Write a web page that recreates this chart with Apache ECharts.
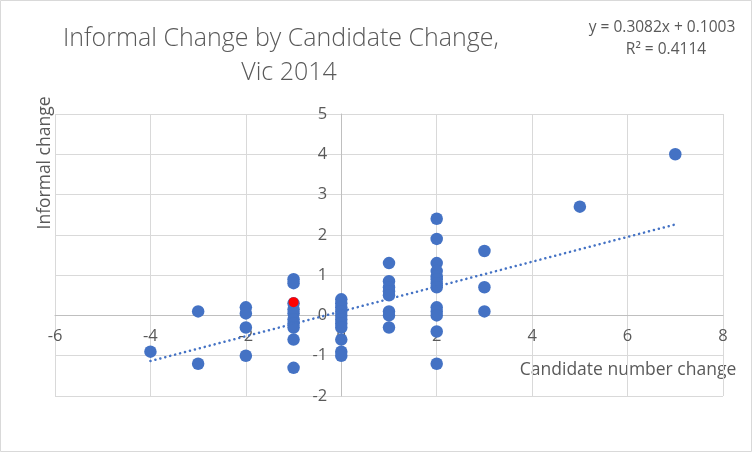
<!DOCTYPE html>
<html>
<head>
<meta charset="utf-8">
<script src="https://cdn.jsdelivr.net/npm/echarts@6/dist/echarts.min.js"></script>
<style>
html,body{margin:0;padding:0;background:#fff;}
#chart{width:752px;height:452px;}
</style>
</head>
<body>
<div id="chart"></div>
<script>
// Candidate number change (x) and informal change (y)
const candChange = [
  -4,
  -3, -3,
  -2, -2, -2, -2,
  -1, -1, -1, -1, -1, -1, -1, -1, -1, -1,
  0, 0, 0, 0, 0, 0, 0, 0, 0, 0, 0,
  1, 1, 1, 1, 1, 1, 1, 1,
  2, 2, 2, 2, 2, 2, 2, 2, 2, 2, 2, 2, 2,
  3, 3, 3,
  5,
  7
];
const informalChange = [
  -0.9,
  0.1, -1.2,
  0.2, 0.05, -0.3, -1.0,
  0.9, 0.8, 0.3, 0.15, 0.05, -0.1, -0.2, -0.3, -0.6, -1.3,
  0.4, 0.3, 0.2, 0.1, 0.0, -0.1, -0.2, -0.3, -0.6, -0.9, -1.0,
  1.3, 0.85, 0.7, 0.6, 0.5, 0.1, 0.0, -0.3,
  2.4, 1.9, 1.3, 1.1, 0.97, 0.9, 0.8, 0.7, 0.2, 0.1, 0.0, -0.4, -1.2,
  1.6, 0.7, 0.1,
  2.7,
  4.0
];
const highlightX = [-1];
const highlightY = [0.33];
// Linear trendline as printed on the chart
const slope = 0.3082;
const intercept = 0.1003;
const trendXRange = [-4, 7];
const xTicks = [-6, -4, -2, 0, 2, 4, 6, 8];
const yTicks = [-2, -1, 0, 1, 2, 3, 4, 5];

const titleLines = ['Informal Change by Candidate Change,', 'Vic 2014'];
const eqLines = ['y = 0.3082x + 0.1003', 'R² = 0.4114'];
const xName = 'Candidate number change';
const yName = 'Informal change';

const blue = '#4472C4';
const textCol = '#595959';
const font = '"Open Sans", "Liberation Sans", sans-serif';

const W = 752, H = 452;
const gridL = 55, gridR = 29, gridT = 114, gridB = 56;
const gridW = W - gridL - gridR, gridH = H - gridT - gridB;
const xMin = xTicks[0], xMax = xTicks[xTicks.length - 1];
const yMin = yTicks[0], yMax = yTicks[yTicks.length - 1];
// shift axes so they sit on the zero lines (Excel style crossing)
const yAxisOffset = -((0 - xMin) / (xMax - xMin)) * gridW;
const xAxisOffset = -((0 - yMin) / (yMax - yMin)) * gridH;

const mainData = candChange.map((x, i) => [x, informalChange[i]]);
const redData = highlightX.map((x, i) => [x, highlightY[i]]);
const trendData = trendXRange.map(x => [x, slope * x + intercept]);

const chart = echarts.init(document.getElementById('chart'));
chart.setOption({
  backgroundColor: '#fff',
  animation: false,
  grid: { left: gridL, right: gridR, top: gridT, bottom: gridB },
  xAxis: {
    type: 'value',
    min: xMin, max: xMax, interval: 2,
    position: 'bottom', offset: xAxisOffset,
    axisLine: { onZero: false, lineStyle: { color: '#BFBFBF', width: 1 } },
    axisTick: { show: false },
    axisLabel: { color: textCol, fontSize: 16.5, fontFamily: font, margin: 12 },
    splitLine: { show: true, lineStyle: { color: '#D9D9D9', width: 1 } }
  },
  yAxis: {
    type: 'value',
    min: yMin, max: yMax, interval: 1,
    position: 'left', offset: yAxisOffset,
    axisLine: { onZero: false, lineStyle: { color: '#BFBFBF', width: 1 } },
    axisTick: { show: false },
    axisLabel: { color: textCol, fontSize: 16.5, fontFamily: font, margin: 14 },
    splitLine: { show: true, lineStyle: { color: '#D9D9D9', width: 1 } }
  },
  series: [
    {
      type: 'scatter', data: mainData, symbolSize: 12.5,
      itemStyle: { color: blue, opacity: 1 }, z: 3
    },
    {
      type: 'line', data: trendData, showSymbol: false, symbol: 'none',
      lineStyle: { color: blue, width: 2.5, type: [0.1, 5], cap: 'round' }, z: 4
    },
    {
      type: 'scatter', data: redData, symbolSize: 10,
      itemStyle: { color: '#FF0000', opacity: 1 }, z: 5
    }
  ],
  graphic: [
    { type: 'rect', shape: { x: 0.5, y: 0.5, width: 751, height: 451 },
      style: { fill: 'none', stroke: '#D9D9D9', lineWidth: 1 }, silent: true },
    { type: 'text', x: 281, y: 39, style: { text: titleLines[0], fill: textCol, font: '300 25px ' + font, textAlign: 'center', textVerticalAlign: 'middle' } },
    { type: 'text', x: 289, y: 73, style: { text: titleLines[1], fill: textCol, font: '300 25px ' + font, textAlign: 'center', textVerticalAlign: 'middle' } },
    { type: 'text', x: 662, y: 28, style: { text: eqLines[0], fill: textCol, font: '15.5px ' + font, textAlign: 'center', textVerticalAlign: 'middle' } },
    { type: 'text', x: 666, y: 50, style: { text: eqLines[1], fill: textCol, font: '15.5px ' + font, textAlign: 'center', textVerticalAlign: 'middle' } },
    { type: 'text', x: 628, y: 370, style: { text: xName, fill: textCol, font: '17.5px ' + font, textAlign: 'center', textVerticalAlign: 'middle' } },
    { type: 'text', x: 45, y: 163, rotation: Math.PI / 2, style: { text: yName, fill: textCol, font: '17.5px ' + font, textAlign: 'center', textVerticalAlign: 'middle' } }
  ]
});
</script>
</body>
</html>
